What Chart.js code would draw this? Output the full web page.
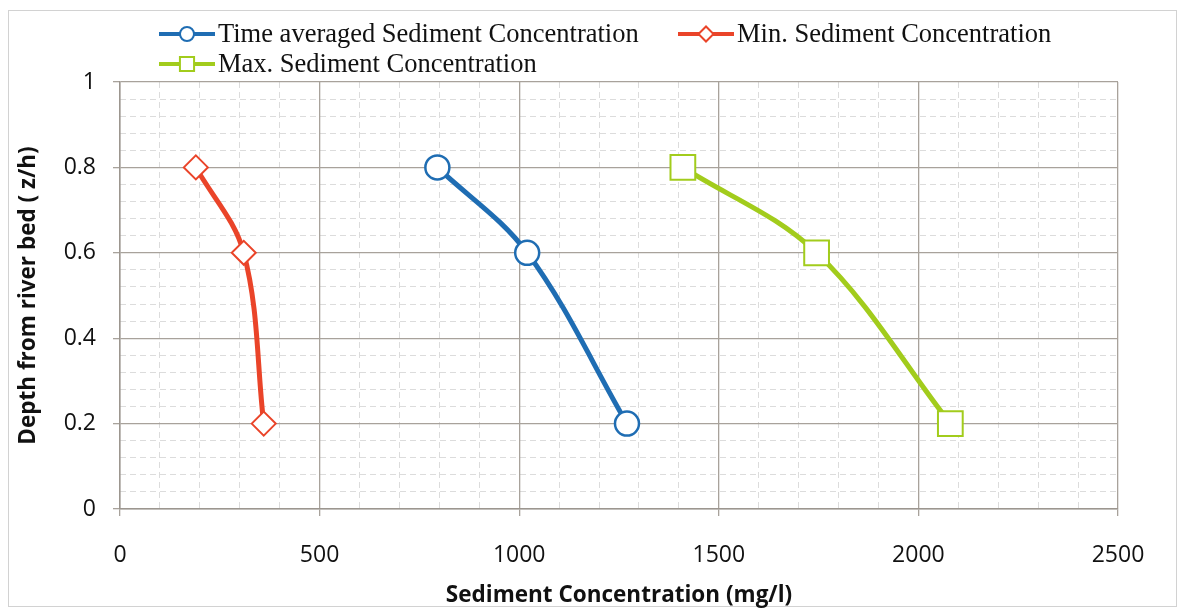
<!DOCTYPE html>
<html>
<head>
<meta charset="utf-8">
<script src="https://cdn.jsdelivr.net/npm/chart.js@4/dist/chart.umd.min.js"></script>
<style>
  html, body { margin: 0; padding: 0; background: #fff; }
  #wrap { width: 1179px; height: 610px; }
</style>
</head>
<body>
<div id="wrap"><canvas id="sediment-chart" width="1179" height="610"></canvas></div>
<script>
// values
const depth = [0.8, 0.6, 0.2];
const timeAvg = [795, 1020, 1270];
const minConc = [190, 310, 360];
const maxConc = [1410, 1745, 2080];
const xTicks = [0, 500, 1000, 1500, 2000, 2500];
const yTicks = [0, 0.2, 0.4, 0.6, 0.8, 1];
const seriesNames = ['Time averaged Sediment Concentration', 'Min. Sediment Concentration', 'Max. Sediment Concentration'];

const toPoints = (xs) => xs.map((x, i) => ({ x: x, y: depth[i] }));

const majorGrid = '#a8a29b';
const minorGrid = '#dcdcdc';

// white background + outer frame
const framePlugin = {
    id: 'frame',
    beforeDraw(chart) {
        const c = chart.ctx;
        c.save();
        c.fillStyle = '#fff';
        c.fillRect(0, 0, chart.width, chart.height);
        c.strokeStyle = '#d2d2d2';
        c.lineWidth = 1;
        c.strokeRect(8.5, 10.5, chart.width - 11, chart.height - 14);
        c.restore();
    }
};

// Excel-like legend: line segment with marker, then label
const legendPlugin = {
    id: 'excelLegend',
    afterDraw(chart) {
        const c = chart.ctx;
        const spots = [[159, 34], [678, 34], [159, 64]];
        const sizes = [7, 7.5, 10];
        c.save();
        chart.data.datasets.forEach((ds, i) => {
            const [x, y] = spots[i];
            c.strokeStyle = ds.borderColor;
            c.lineWidth = 4;
            c.beginPath();
            c.moveTo(x, y);
            c.lineTo(x + 56, y);
            c.stroke();
            c.fillStyle = '#fff';
            c.strokeStyle = ds.borderColor;
            c.lineWidth = 2;
            Chart.helpers.drawPoint(c, { pointStyle: ds.pointStyle, radius: sizes[i], borderWidth: 2 }, x + 28, y);
            c.fillStyle = '#111';
            c.font = "26.5px 'Liberation Serif'";
            c.textBaseline = 'middle';
            c.textAlign = 'left';
            c.fillText(ds.label, x + 59, y + 1);
        });
        c.restore();
    }
};

const ctx = document.getElementById('sediment-chart').getContext('2d');

new Chart(ctx, {
    type: 'scatter',
    data: {
        datasets: [
            {
                label: seriesNames[0],
                data: toPoints(timeAvg),
                showLine: true,
                borderColor: '#1f6db3',
                backgroundColor: '#fff',
                borderWidth: 5,
                tension: 0.35,
                pointStyle: 'circle',
                pointRadius: 12,
                pointBorderWidth: 2.5,
                pointBackgroundColor: '#fff'
            },
            {
                label: seriesNames[1],
                data: toPoints(minConc),
                showLine: true,
                borderColor: '#ea4429',
                backgroundColor: '#fff',
                borderWidth: 5,
                tension: 0.35,
                pointStyle: 'rectRot',
                pointRadius: 12,
                pointBorderWidth: 2,
                pointBackgroundColor: '#fff'
            },
            {
                label: seriesNames[2],
                data: toPoints(maxConc),
                showLine: true,
                borderColor: '#a2cc1c',
                backgroundColor: '#fff',
                borderWidth: 5,
                tension: 0.35,
                pointStyle: 'rect',
                pointRadius: 17.5,
                pointBorderWidth: 2,
                pointBackgroundColor: '#fff'
            }
        ]
    },
    options: {
        responsive: false,
        animation: false,
        events: [],
        layout: { padding: { top: 82, right: 61, bottom: 1, left: 10 } },
        plugins: {
            legend: { display: false },
            tooltip: { enabled: false }
        },
        scales: {
            xMinor: {
                type: 'linear',
                position: 'bottom',
                min: 0, max: 2500,
                afterFit: (scale) => { scale.height = 0; },
                ticks: { display: false, stepSize: 100 },
                grid: {
                    z: -1,
                    drawTicks: false,
                    color: (c) => c.tick && c.tick.value % 500 === 0 ? 'rgba(0,0,0,0)' : minorGrid
                },
                border: { display: false, dash: [6, 4] }
            },
            yMinor: {
                type: 'linear',
                position: 'left',
                min: 0, max: 1,
                afterFit: (scale) => { scale.width = 0; },
                ticks: { display: false, stepSize: 0.04 },
                grid: {
                    z: -1,
                    drawTicks: false,
                    color: (c) => c.tick && Math.abs(c.tick.value * 5 - Math.round(c.tick.value * 5)) < 1e-6 ? 'rgba(0,0,0,0)' : minorGrid
                },
                border: { display: false, dash: [6, 4] }
            },
            x: {
                type: 'linear',
                position: 'bottom',
                min: 0, max: 2500,
                afterBuildTicks: (scale) => { scale.ticks = xTicks.map(v => ({ value: v })); },
                afterFit: (scale) => { scale.height = 100; },
                ticks: {
                    padding: 26,
                    color: '#111',
                    font: { family: "'Open Sans'", size: 23 },
                    maxRotation: 0,
                    callback: (v) => String(v)
                },
                grid: { color: majorGrid, lineWidth: 1.3, tickLength: 7, tickColor: majorGrid },
                border: { color: '#9c968f', width: 1.5 },
                title: {
                    display: true,
                    text: 'Sediment Concentration (mg/l)',
                    color: '#111',
                    font: { family: "'Open Sans'", size: 22.5, weight: 'bold' },
                    padding: { top: 10, bottom: 0 }
                }
            },
            y: {
                type: 'linear',
                position: 'left',
                min: 0, max: 1,
                afterBuildTicks: (scale) => { scale.ticks = yTicks.map(v => ({ value: v })); },
                afterFit: (scale) => { scale.width = 110; },
                ticks: {
                    padding: 17,
                    color: '#111',
                    font: { family: "'Open Sans'", size: 23 },
                    callback: (v) => String(Math.round(v * 10) / 10)
                },
                grid: { color: majorGrid, lineWidth: 1.3, tickLength: 7, tickColor: majorGrid },
                border: { color: '#9c968f', width: 1.5 },
                title: {
                    display: true,
                    text: 'Depth from river bed ( z/h)',
                    color: '#111',
                    font: { family: "'Open Sans'", size: 22.5, weight: 'bold' },
                    padding: { top: 5, bottom: 0 }
                }
            }
        }
    },
    plugins: [framePlugin, legendPlugin]
});
</script>
</body>
</html>
